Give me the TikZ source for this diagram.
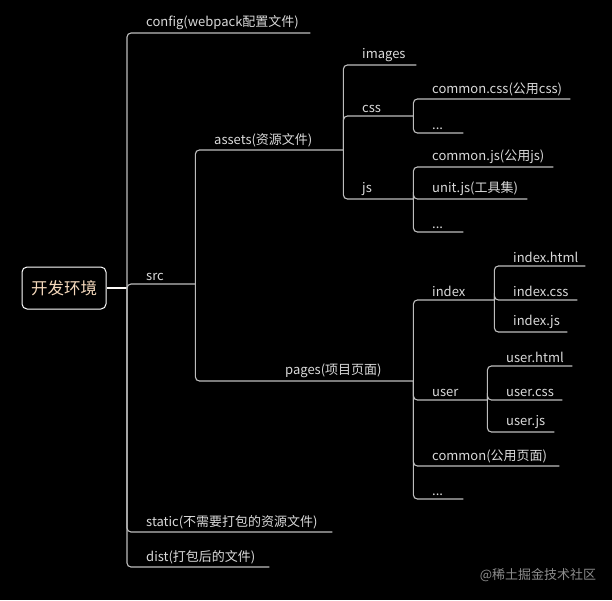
\documentclass[tikz,border=0pt]{standalone}
\usepackage{fontspec}
\setmainfont{Noto Sans CJK SC}
\usepackage{tikz}
\usetikzlibrary{calc}

\definecolor{bg}{HTML}{000000}
\definecolor{txt}{HTML}{DADADA}
\definecolor{peach}{HTML}{F5D9BC}
\definecolor{wire}{HTML}{BDBDBD}
\definecolor{mark}{HTML}{8C8C8C}

\tikzset{
  topic/.style={anchor=south west,inner xsep=0pt,inner ysep=3pt,text width=#1,align=left,
    text=txt,font=\fontsize{13}{15}\selectfont},
  branch/.style={draw=wire,line width=1.1pt,rounded corners=4pt}
}

\begin{document}
\begin{tikzpicture}[x=1pt,y=-1pt]
\useasboundingbox[fill=bg] (0,0) rectangle (612,600);

\node[draw=white,line width=1pt,rounded corners=5pt,minimum width=84pt,minimum height=42pt,
  text=peach,font=\fontsize{16.5}{20}\selectfont] (root) at (64,288) {开发环境};
\coordinate (rootj) at (127,288);
\draw[draw=white!90!peach,line width=2.5pt] (root.east) -- (rootj);

% the labels
\node[topic=164] (cfg) at (146,33) {config(webpack配置文件)};
\node[topic=49] (src) at (146,284) {src};
\node[topic=186] (static) at (146,532) {static(不需要打包的资源文件)};
\node[topic=123] (dist) at (146,567) {dist(打包后的文件)};

\node[topic=129] (assets) at (214,150) {assets(资源文件)};
\node[topic=128] (pages) at (285,381) {pages(项目页面)};

\node[topic=54] (images) at (362,65) {images};
\node[topic=51] (css) at (362,116) {css};
\node[topic=51] (js) at (362,199) {js};

\node[topic=138] (commoncss) at (432,99) {common.css(公用css)};
\node[topic=31] (cssmore) at (432,133) {...};
\node[topic=121] (commonjs) at (432,167) {common.js(公用js)};
\node[topic=95] (unitjs) at (432,199) {unit.js(工具集)};
\node[topic=31] (jsmore) at (432,232) {...};

\node[topic=62] (index) at (432,300) {index};
\node[topic=55] (user) at (432,400) {user};
\node[topic=127] (commonpage) at (432,466) {common(公用页面)};
\node[topic=31] (pagemore) at (432,499) {...};

\node[topic=72] (indexhtml) at (513,266) {index.html};
\node[topic=64] (indexcss) at (513,300) {index.css};
\node[topic=54] (indexjs) at (513,332) {index.js};
\node[topic=66] (userhtml) at (506,366) {user.html};
\node[topic=56] (usercss) at (506,400) {user.css};
\node[topic=48] (userjs) at (506,432) {user.js};

\foreach \p/\c in {rootj/cfg,rootj/src,rootj/static,rootj/dist,
    src.south east/assets,src.south east/pages,
    assets.south east/images,assets.south east/css,assets.south east/js,
    css.south east/commoncss,css.south east/cssmore,
    js.south east/commonjs,js.south east/unitjs,js.south east/jsmore,
    pages.south east/index,pages.south east/user,pages.south east/commonpage,pages.south east/pagemore,
    index.south east/indexhtml,index.south east/indexcss,index.south east/indexjs,
    user.south east/userhtml,user.south east/usercss,user.south east/userjs}
  \draw[branch] (\p) |- (\c.south east);

\node[text=mark,font=\fontsize{13}{15}\selectfont] (wm) at (538,575) {@稀土掘金技术社区};
\end{tikzpicture}
\end{document}
